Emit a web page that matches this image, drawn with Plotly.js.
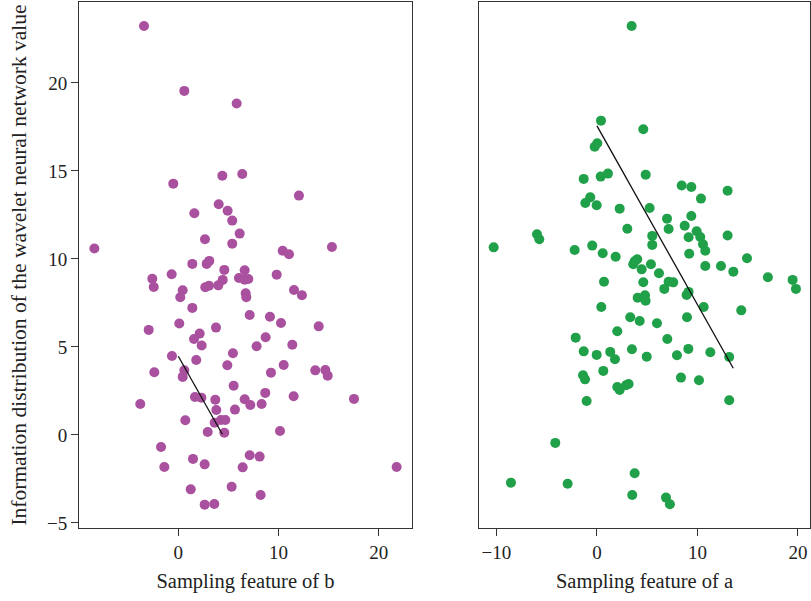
<!DOCTYPE html>
<html>
<head>
<meta charset="utf-8">
<script src="https://cdn.plot.ly/plotly-3.0.1.min.js"></script>
<style>html,body{margin:0;padding:0;background:#fff;}#chart{width:811px;height:601px;}</style>
</head>
<body>
<div id="chart"></div>
<script>
// Panel b (left, purple)
const bX = [-3.42,0.6,5.82,-0.5,4.39,6.38,12.03,4.03,4.92,1.6,5.38,6.12,2.66,5.38,-8.37,15.32,10.41,11.04,1.4,2.83,3.09,4.59,6.62,9.81,-0.66,-2.59,6.05,6.62,6.98,4.43,-2.45,0.44,2.69,3.06,3.99,11.54,12.33,6.72,0.2,6.78,1.4,7.12,9.14,10.24,14.0,0.1,3.76,-2.95,2.13,1.57,2.33,8.71,11.37,7.81,5.45,-0.63,1.79,4.89,10.51,-2.39,0.6,0.44,9.24,13.66,14.66,14.9,5.52,8.67,-3.79,1.66,2.3,3.69,6.62,11.5,17.52,3.79,5.65,7.18,8.31,0.7,3.63,4.26,4.69,2.93,4.59,10.14,-1.72,-1.39,1.47,2.63,6.42,7.12,8.11,21.77,1.24,5.32,8.21,2.63,3.59];
const bY = [23.24,19.55,18.83,14.28,14.73,14.83,13.6,13.11,12.74,12.6,12.18,11.44,11.12,10.87,10.59,10.68,10.47,10.27,9.72,9.72,9.89,9.38,9.36,9.11,9.13,8.88,8.92,8.82,8.86,8.81,8.41,8.22,8.39,8.48,8.5,8.24,7.94,8.05,7.82,7.82,7.22,6.82,6.72,6.36,6.17,6.33,6.1,5.97,5.76,5.45,5.08,5.55,5.13,5.04,4.64,4.49,4.26,3.96,3.98,3.56,3.67,3.3,3.54,3.67,3.69,3.37,2.8,2.39,1.76,2.16,2.12,2.0,2.03,2.2,2.05,1.42,1.44,1.7,1.76,0.84,0.7,0.85,0.85,0.17,0.13,0.23,-0.68,-1.82,-1.36,-1.67,-1.84,-1.15,-1.23,-1.82,-3.09,-2.94,-3.41,-3.96,-3.92];
const bLineX = [0, 4.39];
const bLineY = [4.47, 0.04];

// Panel a (right, green)
const aX = [3.45,0.4,4.61,-0.23,0.03,-1.32,0.37,1.09,4.85,8.43,9.39,13.0,10.35,-0.67,-1.16,-0.03,2.26,5.24,6.97,9.39,7.13,8.73,3.02,9.92,10.28,10.55,10.78,9.12,5.5,5.5,13.0,-5.97,-5.74,-10.28,-2.22,-0.47,0.57,1.86,9.18,3.75,4.01,3.61,5.37,4.45,10.78,12.34,14.93,13.57,6.17,17.01,19.47,19.8,4.61,7.13,7.59,0.7,6.7,8.92,9.12,4.05,4.78,4.84,0.43,10.62,14.36,3.31,4.25,5.97,8.96,2.02,-2.12,7.0,-1.32,-0.03,1.32,1.79,3.48,4.95,7.96,9.09,11.28,13.16,-1.39,-1.19,0.63,2.02,2.26,2.89,3.15,8.36,10.15,-1.03,13.16,-4.15,-8.56,-2.92,3.75,3.51,6.87,7.26];
const aY = [23.24,17.86,17.37,16.38,16.57,14.55,14.68,14.85,14.79,14.17,14.09,13.88,13.43,13.5,13.18,13.05,12.86,12.9,12.29,12.44,11.7,11.89,11.72,11.57,11.25,10.84,10.47,11.23,11.31,10.8,11.33,11.4,11.12,10.66,10.51,10.76,10.32,10.13,10.3,9.87,9.98,9.7,9.7,9.41,9.6,9.6,10.04,9.28,9.19,8.96,8.81,8.3,8.68,8.71,8.67,8.71,8.3,7.95,8.13,7.8,7.94,7.63,7.27,7.27,7.08,6.69,6.48,6.35,6.69,5.89,5.53,5.45,4.75,4.55,4.72,4.3,4.87,4.45,4.53,4.89,4.7,4.43,3.39,3.16,3.64,2.73,2.56,2.82,2.9,3.26,3.11,1.93,1.97,-0.45,-2.71,-2.77,-2.18,-3.41,-3.56,-3.94];
const aLineX = [0, 13.56];
const aLineY = [17.56, 3.79];

const titleB = "Sampling feature of b";
const titleA = "Sampling feature of a";
const titleY = "Information distribution of the wavelet neural network value";
const yTicks = [-5, 0, 5, 10, 15, 20];

const purple = "#A9509E";
const green = "#20A049";
const frame = "#333333";
const fontFam = "Liberation Serif, Times New Roman, serif";

const traces = [
  {x: bX, y: bY, type: "scatter", mode: "markers", xaxis: "x", yaxis: "y",
   marker: {color: purple, size: 10}},
  {x: bLineX, y: bLineY, type: "scatter", mode: "lines", xaxis: "x", yaxis: "y",
   line: {color: "#111", width: 1.3}},
  {x: aX, y: aY, type: "scatter", mode: "markers", xaxis: "x2", yaxis: "y2",
   marker: {color: green, size: 10}},
  {x: aLineX, y: aLineY, type: "scatter", mode: "lines", xaxis: "x2", yaxis: "y2",
   line: {color: "#111", width: 1.3}}
];

const axBase = {
  showline: true, mirror: true, linecolor: frame, linewidth: 1,
  ticks: "outside", ticklen: 7, tickcolor: frame, tickwidth: 1,
  showgrid: false, zeroline: false,
  tickfont: {family: fontFam, size: 19, color: "#222"}
};

const layout = {
  width: 811, height: 601,
  margin: {l: 79, r: 1, t: 2, b: 73},
  paper_bgcolor: "#fff", plot_bgcolor: "#fff",
  showlegend: false,
  font: {family: fontFam, color: "#222"},
  xaxis: Object.assign({}, axBase, {
    domain: [0, 0.4555], range: [-9.9, 23.3], tickvals: [0, 10, 20],
    title: {text: titleB, font: {family: fontFam, size: 20.5, color: "#222"}, standoff: 11}
  }),
  xaxis2: Object.assign({}, axBase, {
    domain: [0.5472, 1], range: [-11.74, 21.2], tickvals: [-10, 0, 10, 20], anchor: "y2",
    title: {text: titleA, font: {family: fontFam, size: 20.5, color: "#222"}, standoff: 11}
  }),
  yaxis: Object.assign({}, axBase, {
    range: [-5.286, 24.6], tickvals: yTicks,
    title: {text: titleY, font: {family: fontFam, size: 21.5, color: "#222"}, standoff: 14}
  }),
  yaxis2: Object.assign({}, axBase, {
    range: [-5.286, 24.6], anchor: "x2", ticks: "", showticklabels: false
  })
};

Plotly.newPlot("chart", traces, layout, {displayModeBar: false, staticPlot: true});
</script>
</body>
</html>
